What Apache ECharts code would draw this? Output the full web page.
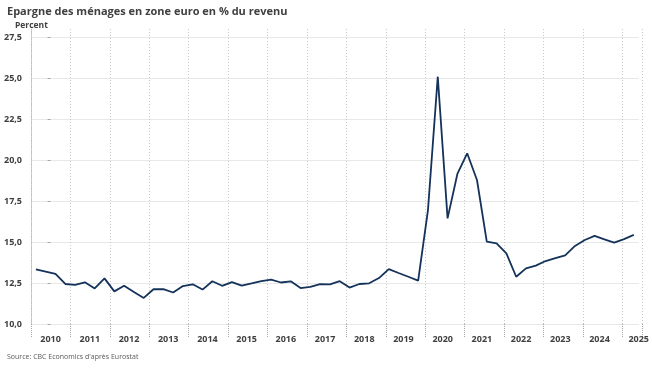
<!DOCTYPE html>
<html>
<head>
<meta charset="utf-8">
<script src="https://cdn.jsdelivr.net/npm/echarts@6/dist/echarts.min.js"></script>
<style>
html,body{margin:0;padding:0;background:#fff;}
#chart{width:652px;height:371px;}
</style>
</head>
<body>
<div id="chart"></div>
<script>
// Quarterly household saving rate, euro area (% of income), 2010Q1 .. 2025Q2
const years = ["2010","2011","2012","2013","2014","2015","2016","2017","2018","2019","2020","2021","2022","2023","2024","2025"];
const savingRate = [
  13.33, 13.20, 13.05, 12.44,
  12.38, 12.54, 12.17, 12.78,
  11.99, 12.33, 11.95, 11.59,
  12.12, 12.13, 11.92, 12.31,
  12.42, 12.10, 12.61, 12.33,
  12.55, 12.34, 12.47, 12.62,
  12.70, 12.53, 12.60, 12.19,
  12.26, 12.43, 12.42, 12.61,
  12.22, 12.44, 12.48, 12.80,
  13.35, 13.11, 12.88, 12.64,
  16.95, 25.08, 16.44, 19.15,
  20.41, 18.78, 15.02, 14.92,
  14.31, 12.88, 13.39, 13.56,
  13.84, 14.02, 14.19, 14.76,
  15.12, 15.37, 15.16, 14.96,
  15.18, 15.43
];
const yTicks = [10, 12.5, 15, 17.5, 20, 22.5, 25, 27.5];

const nQ = 62; // quarters on axis
const seriesData = savingRate.map((v, i) => [i + 0.5, v]);

const FONT = '"Open Sans", sans-serif';
const chart = echarts.init(document.getElementById('chart'), null, {renderer: 'canvas'});
chart.setOption({
  animation: false,
  backgroundColor: '#ffffff',
  title: [
    {text: 'Epargne des ménages en zone euro en % du revenu', left: 7, top: 6, padding: 0,
     textStyle: {fontFamily: FONT, fontSize: 11, fontWeight: 'bold', color: '#404040'}},
    {text: 'Percent', left: 15, top: 21, padding: 0,
     textStyle: {fontFamily: FONT, fontSize: 8.5, fontWeight: 'bold', color: '#404040'}},
    {text: "Source: CBC Economics d'après Eurostat", left: 7, top: 353, padding: 0,
     textStyle: {fontFamily: FONT, fontSize: 7, fontWeight: 'normal', color: '#595959'}}
  ],
  grid: [
    {left: 31, right: 10, top: 29, bottom: 47, containLabel: false},
    {left: 31, right: 10, top: 37, bottom: 47, containLabel: false}
  ],
  xAxis: [
    {gridIndex: 0, type: 'value', min: 0, max: nQ, interval: 4,
     axisLine: {show: false},
     axisTick: {show: true, length: 13, lineStyle: {color: '#a6a6a6', type: [1, 1]}},
     axisLabel: {show: false},
     splitLine: {show: true, lineStyle: {color: '#c8c8c8', type: [1, 2], width: 1}}},
    {gridIndex: 1, type: 'value', min: -2, max: nQ - 2, interval: 2,
     axisLine: {show: false}, axisTick: {show: false}, splitLine: {show: false},
     axisLabel: {show: true, margin: 11, fontFamily: FONT, fontSize: 9, fontWeight: 'bold', color: '#404040',
       showMinLabel: true, showMaxLabel: true, hideOverlap: false,
       formatter: function (v) { var r = Math.round(v); return (r % 4 === 0 && r >= 0) ? years[r / 4] : ''; }}},
    {gridIndex: 1, type: 'value', min: 0, max: nQ, show: false}
  ],
  yAxis: [
    {gridIndex: 0, type: 'value', min: 0, max: 1,
     axisLine: {show: true, lineStyle: {color: '#bfbfbf', type: [1, 1]}},
     axisTick: {show: false}, axisLabel: {show: false}, splitLine: {show: false}},
    {gridIndex: 1, type: 'value', min: yTicks[0], max: yTicks[yTicks.length - 1], interval: 2.5,
     axisLine: {show: false},
     axisTick: {show: true, length: 3, lineStyle: {color: '#a6a6a6'}},
     axisLabel: {margin: 9, fontFamily: FONT, fontSize: 9, fontWeight: 'bold', color: '#404040',
       formatter: function (v) { return v.toFixed(1).replace('.', ','); }},
     splitLine: {show: true, lineStyle: {color: '#e8e8e8', width: 1}}}
  ],
  series: [{
    type: 'line', xAxisIndex: 2, yAxisIndex: 1, data: seriesData,
    showSymbol: false, symbol: 'none',
    lineStyle: {color: '#14325a', width: 1.8},
    z: 5
  }]
});
</script>
</body>
</html>
